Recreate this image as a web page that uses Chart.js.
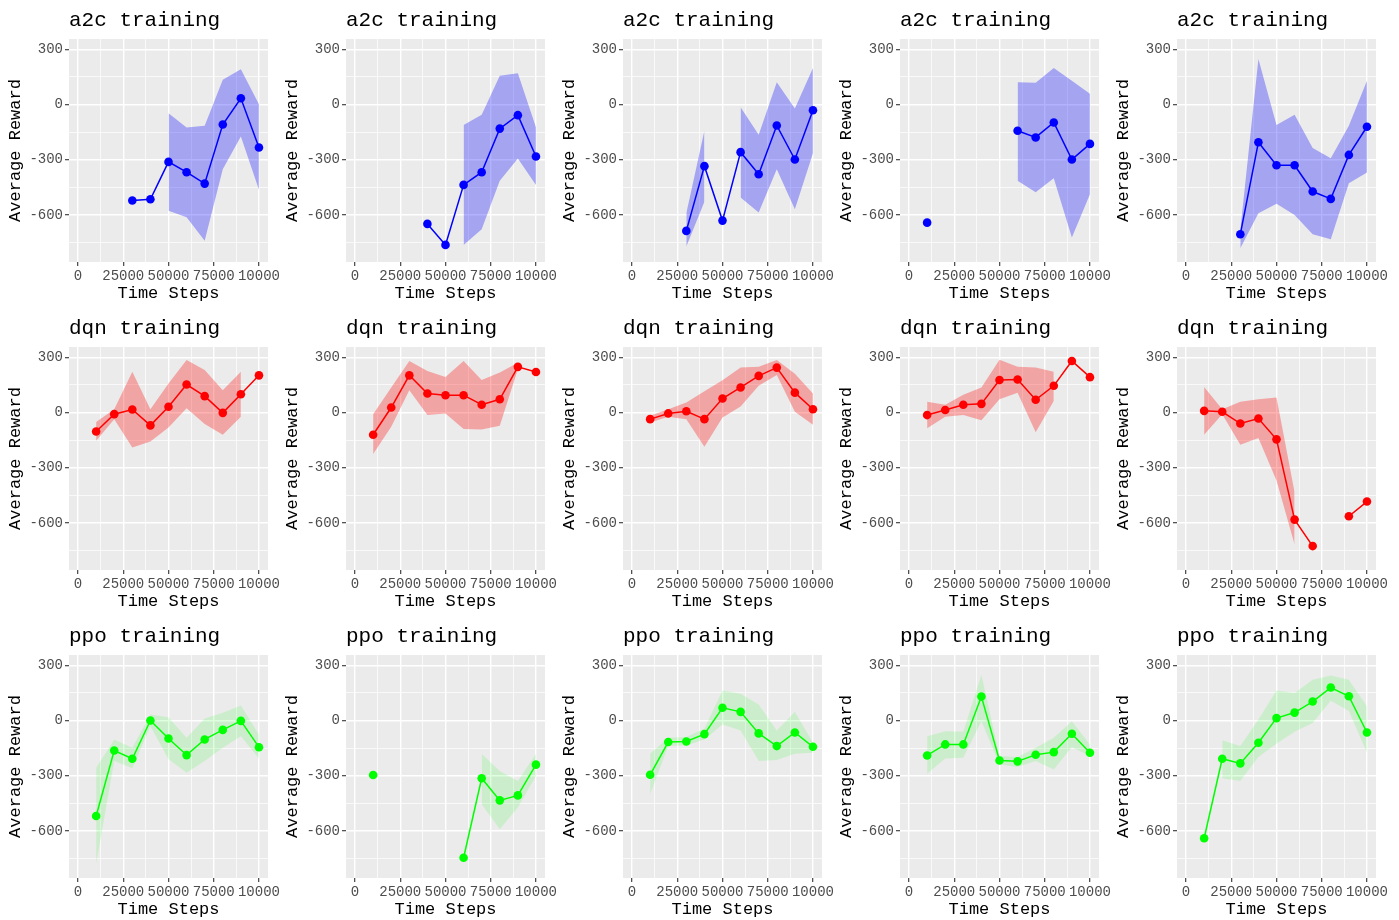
<!DOCTYPE html>
<html lang="en">
<head>
<meta charset="UTF-8" />
<title>a2c / dqn / ppo training</title>
<script src="https://cdn.jsdelivr.net/npm/chart.js@4.4.0/dist/chart.umd.min.js"></script>
<style>
  html, body { margin: 0; padding: 0; background: #fff; overflow: hidden; }
  #grid { position: relative; width: 1399px; height: 920px; }
  #grid canvas { position: absolute; }
</style>
</head>
<body>
<div id="grid"></div>
<script>
// ---- data ---------------------------------------------------------------
const steps  = [10000, 20000, 30000, 40000, 50000, 60000, 70000, 80000, 90000, 100000];
const xTicks = [0, 25000, 50000, 75000, 100000];
const xTickLabels = ['0', '25000', '50000', '75000', '10000'];   // as printed on the figure
const yTicks = [-600, -300, 0, 300];
const algos  = ['a2c', 'dqn', 'ppo'];

// one row per run (5 runs), one value per time step, null = missing
const a2cMean = [
  [null, null, -522, -515, -312, -368, -430, -109, 34, -234],
  [null, null, null, -649, -763, -437, -368, -131, -58, -283],
  [null, null, -687, -335, -631, -259, -379, -114, -299, -31],
  [-642, null, null, null, null, -143, -179, -98, -299, -214],
  [null, null, -705, -205, -330, -330, -473, -513, -274, -121]
];
const a2cUpper = [
  [null, null, null, null, -47, -125, -116, 134, 192, 2],
  [null, null, null, null, null, -111, -56, 156, 170, -123],
  [null, null, -591, -143, null, -15, -165, 121, -22, 198],
  [null, null, null, null, null, 121, 118, 198, 129, 58],
  [null, null, -682, 247, -112, -56, -237, -292, -116, 129]
];
const a2cLower = [
  [null, null, null, null, -577, -613, -740, -352, -174, -464],
  [null, null, null, null, null, -763, -678, -415, -294, -437],
  [null, null, -772, -528, null, -506, -587, -352, -569, -265],
  [null, null, null, null, null, -415, -477, -401, -723, -488],
  [null, null, -781, -591, -540, -600, -705, -732, -428, -370]
];

const dqnMean = [
  [-103, -9, 16, -70, 31, 152, 89, -2, 99, 202],
  [-121, 27, 202, 103, 94, 94, 42, 72, 248, 220],
  [-36, -5, 7, -36, 76, 136, 199, 244, 108, 18],
  [-14, 14, 42, 47, 177, 179, 69, 145, 280, 192],
  [9, 4, -60, -33, -146, -582, -726, null, -564, -484]
];
const dqnUpper = [
  [-51, 18, 222, 18, 157, 286, 231, 121, 222, null],
  [-9, 136, 280, 226, 193, 280, 177, 217, 271, null],
  [-18, 18, 55, 115, 175, 244, 248, 286, 211, 103],
  [58, 42, 96, 136, 287, 249, 244, 222, null, null],
  [139, 18, 58, 72, 81, -434, null, null, null, null]
];
const dqnLower = [
  [-154, -36, -190, -157, -81, 23, -63, -121, -23, null],
  [-226, -78, 121, -14, -5, -90, -92, -72, 235, null],
  [-54, -23, -36, -186, -27, 33, 145, 204, 4, -67],
  [-85, -23, -14, -42, 72, 108, -108, 63, null, null],
  [-121, -9, -175, -139, -370, -717, null, null, null, null]
];

const ppoMean = [
  [-519, -163, -208, 0, -98, -188, -103, -51, -2, -145],
  [-296, null, null, null, null, -746, -314, -434, -407, -240],
  [-295, -117, -114, -74, 69, 47, -70, -139, -65, -143],
  [-190, -130, -130, 130, -217, -222, -186, -172, -72, -175],
  [-640, -208, -233, -121, 13, 43, 103, 179, 132, -65]
];
const ppoUpper = [
  [-257, -103, -148, 33, 18, -94, 11, 42, 81, -76],
  [null, null, null, null, null, null, -181, -275, -329, -181],
  [-181, -94, -90, -43, 163, 145, 87, -54, 47, -121],
  [-85, -58, -61, 249, -193, -199, -148, -94, -4, -130],
  [null, -108, -139, 5, 163, 150, 222, 244, 222, 78]
];
const ppoLower = [
  [-781, -220, -260, -31, -211, -284, -220, -148, -85, -206],
  [null, null, null, null, null, null, -455, -591, -473, -302],
  [-401, -139, -136, -103, -22, -54, -220, -215, -181, -175],
  [-289, -206, -202, -4, -239, -253, -220, -266, -145, -193],
  [null, -314, -329, -199, -126, -61, -13, 108, 51, -175]
];

// ---- styling --------------------------------------------------------------
const series = {
  a2c: { mean: a2cMean, hi: a2cUpper, lo: a2cLower, line: '#0000ff', band: 'rgba(0,0,255,0.3)' },
  dqn: { mean: dqnMean, hi: dqnUpper, lo: dqnLower, line: '#ff0000', band: 'rgba(255,0,0,0.3)' },
  ppo: { mean: ppoMean, hi: ppoUpper, lo: ppoLower, line: '#00ff00', band: 'rgba(0,255,0,0.13)' }
};

const FONT = '"Liberation Mono", "DejaVu Sans Mono", monospace';
const Y_MIN = -856, Y_MAX = 356;
const X_MIN = -5000, X_MAX = 105000;

// major ticks plus the half-way minor grid lines ggplot draws
const yGrid = [...new Set(yTicks.flatMap(t => [t - 150, t, t + 150]))]
  .filter(v => v > Y_MIN && v < Y_MAX).sort((a, b) => a - b);
const xGrid = [...new Set(xTicks.flatMap(t => [t - 12500, t, t + 12500]))]
  .filter(v => v > X_MIN && v < X_MAX).sort((a, b) => a - b);

const panelBg = {
  id: 'panelBg',
  beforeDraw(chart) {
    const { ctx, chartArea: a } = chart;
    ctx.save();
    ctx.fillStyle = '#ebebeb';
    ctx.fillRect(a.left, a.top, a.right - a.left, a.bottom - a.top);
    ctx.restore();
  }
};

const panelTitle = {
  id: 'panelTitle',
  afterDraw(chart, args, opts) {
    const ctx = chart.ctx;
    ctx.save();
    ctx.font = '21px ' + FONT;
    ctx.fillStyle = '#000';
    ctx.textBaseline = 'alphabetic';
    ctx.fillText(opts.text, chart.chartArea.left, 26);
    ctx.restore();
  }
};

const pts = arr => steps.map((s, i) => ({ x: s, y: arr[i] }));

function axis(gridVals, majors, labels, extra) {
  const isMajor = v => majors.includes(v);
  return Object.assign({
    type: 'linear',
    afterBuildTicks: s => { s.ticks = gridVals.map(v => ({ value: v })); },
    ticks: {
      autoSkip: false, maxRotation: 0, minRotation: 0, padding: 2,
      color: '#4d4d4d', font: { family: FONT, size: 14 },
      callback: v => isMajor(v) ? labels[majors.indexOf(v)] : ''
    },
    grid: {
      color: '#ffffff',
      lineWidth: c => isMajor(c.tick.value) ? 1.4 : 0.7,
      tickColor: c => isMajor(c.tick.value) ? '#333333' : 'rgba(0,0,0,0)',
      tickWidth: 1.1, tickLength: 4, drawTicks: true
    },
    border: { display: false }
  }, extra);
}

// ---- build the 3 x 5 panels ---------------------------------------------
const grid = document.getElementById('grid');

algos.forEach((algo, r) => {
  const s = series[algo];
  for (let c = 0; c < 5; c++) {
    const cv = document.createElement('canvas');
    cv.width = 290; cv.height = 308;
    cv.style.left = (c * 277) + 'px';
    cv.style.top = (r * 308) + 'px';
    grid.append(cv);

    new Chart(cv, {
      type: 'line',
      data: {
        datasets: [
          { data: pts(s.mean[c]), borderColor: s.line, backgroundColor: s.line,
            borderWidth: 1.5, pointRadius: 4.3, pointBorderWidth: 0,
            pointBackgroundColor: s.line, fill: false },
          { data: pts(s.lo[c]), borderWidth: 0, pointRadius: 0,
            borderColor: 'rgba(0,0,0,0)', fill: false },
          { data: pts(s.hi[c]), borderWidth: 0, pointRadius: 0,
            borderColor: 'rgba(0,0,0,0)', backgroundColor: s.band, fill: '-1' }
        ]
      },
      options: {
        responsive: false,
        animation: false,
        events: [],
        layout: { padding: { top: 39, right: 22, left: 0, bottom: 0 } },
        scales: {
          x: axis(xGrid, xTicks, xTickLabels, {
            min: X_MIN, max: X_MAX,
            title: { display: true, text: 'Time Steps', color: '#000',
                     font: { family: FONT, size: 17 }, padding: { top: 0, bottom: 4 } },
            afterFit: sc => { sc.height = 46; sc.paddingLeft = 0; sc.paddingRight = 0; }
          }),
          y: axis(yGrid, yTicks, yTicks.map(String), {
            min: Y_MIN, max: Y_MAX,
            title: { display: true, text: 'Average Reward', color: '#000',
                     font: { family: FONT, size: 17 }, padding: { top: 5, bottom: 0 } },
            afterFit: sc => { sc.width = 69; sc.paddingTop = 0; sc.paddingBottom = 0; }
          })
        },
        plugins: {
          legend: { display: false },
          tooltip: { enabled: false },
          panelTitle: { text: algo + ' training' }
        }
      },
      plugins: [panelBg, panelTitle]
    });
  }
});
</script>
</body>
</html>
